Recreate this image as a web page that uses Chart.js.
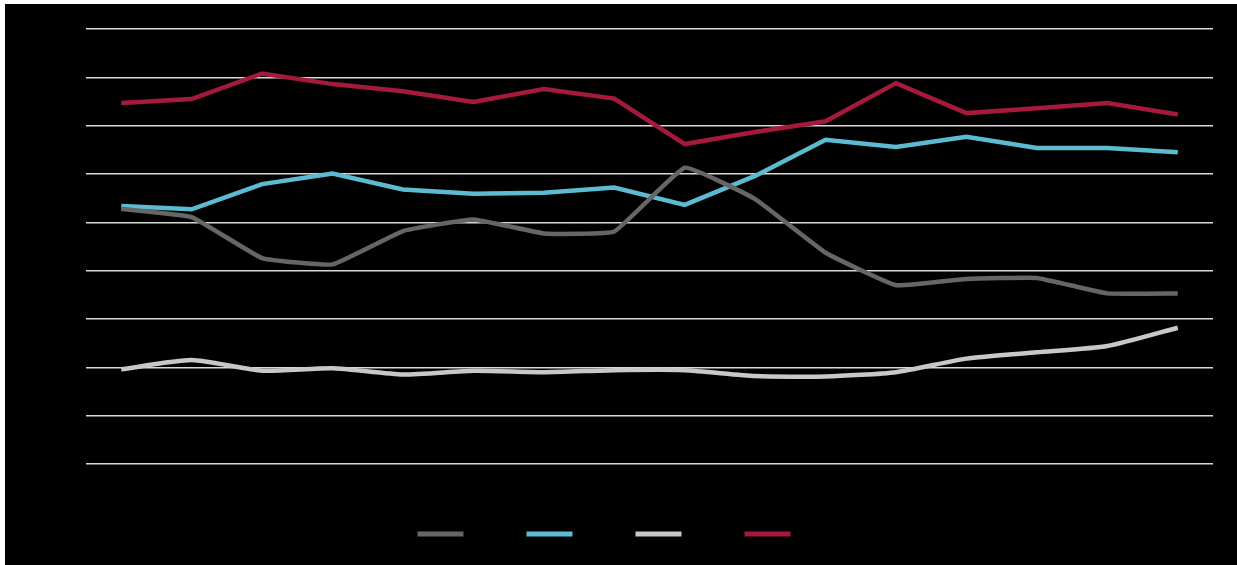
<!DOCTYPE html>
<html>
<head>
<meta charset="utf-8">
<script src="https://cdn.jsdelivr.net/npm/chart.js@4.4.1/dist/chart.umd.min.js"></script>
<style>
  html, body { margin: 0; padding: 0; background: #fff; }
  #wrap { position: absolute; left: 5px; top: 4px; width: 1232px; height: 561px; background: #000; }
</style>
</head>
<body>
<div id="wrap"><canvas id="chart"></canvas></div>
<script>
const categories = ['1', '2', '3', '4', '5', '6', '7', '8', '9', '10', '11', '12', '13', '14', '15', '16'];
const seriesNames = ['Series 1', 'Series 2', 'Series 3', 'Series 4'];

const darkGrey = [52.8, 51.1, 42.6, 41.3, 48.2, 50.6, 47.7, 48.1, 61.3, 54.8, 43.7, 37.0, 38.3, 38.5, 35.3, 35.3];
const teal = [53.4, 52.7, 57.9, 60.1, 56.8, 55.9, 56.1, 57.2, 53.6, 59.6, 67.1, 65.6, 67.7, 65.4, 65.4, 64.5];
const lightGrey = [19.6, 21.5, 19.3, 19.8, 18.5, 19.3, 19.0, 19.4, 19.4, 18.2, 18.1, 19.0, 21.8, 23.1, 24.4, 28.2];
const crimson = [74.7, 75.5, 80.8, 78.6, 77.1, 74.9, 77.6, 75.6, 66.2, 68.7, 70.9, 78.8, 72.6, 73.6, 74.7, 72.3];

const yTicks = [0, 10, 20, 30, 40, 50, 60, 70, 80, 90];

const colors = ['#666666', '#5bbcd1', '#c8c8c8', '#a51a3b'];

function line(label, data, color, tension) {
  return {
    label: label,
    data: data,
    borderColor: color,
    backgroundColor: color,
    borderWidth: 4.5,
    pointRadius: 0,
    tension: tension,
    fill: false
  };
}

const ctx = document.getElementById('chart').getContext('2d');
new Chart(ctx, {
  type: 'line',
  data: {
    labels: categories,
    datasets: [
      line(seriesNames[0], darkGrey, colors[0], 0.1),
      line(seriesNames[1], teal, colors[1], 0),
      line(seriesNames[2], lightGrey, colors[2], 0.2),
      line(seriesNames[3], crimson, colors[3], 0)
    ]
  },
  options: {
    responsive: true,
    maintainAspectRatio: false,
    animation: false,
    layout: { padding: { left: 40, right: 24, top: 25, bottom: 15 } },
    plugins: {
      tooltip: { enabled: false },
      legend: {
        position: 'bottom',
        labels: {
          color: '#000',
          font: { family: 'Liberation Sans', size: 12 },
          boxWidth: 46,
          boxHeight: 5,
          padding: 13,
          // flat swatches, no stroke round the box
          generateLabels: function (chart) {
            const items = Chart.defaults.plugins.legend.labels.generateLabels(chart);
            items.forEach(function (it) {
              it.lineWidth = 0;
              it.fillStyle = it.strokeStyle;
            });
            return items;
          }
        }
      }
    },
    scales: {
      x: {
        offset: true,
        grid: { display: false },
        border: { display: false },
        ticks: { display: false },
        afterFit: function (scale) { scale.height = 51; }
      },
      y: {
        min: yTicks[0],
        max: yTicks[yTicks.length - 1],
        afterBuildTicks: function (scale) {
          scale.ticks = yTicks.map(function (v) { return { value: v }; });
        },
        grid: { color: '#d9d9d9', lineWidth: 1.5, drawTicks: false },
        border: { display: false },
        ticks: { display: false },
        afterFit: function (scale) { scale.width = 41; }
      }
    }
  }
});
</script>
</body>
</html>
